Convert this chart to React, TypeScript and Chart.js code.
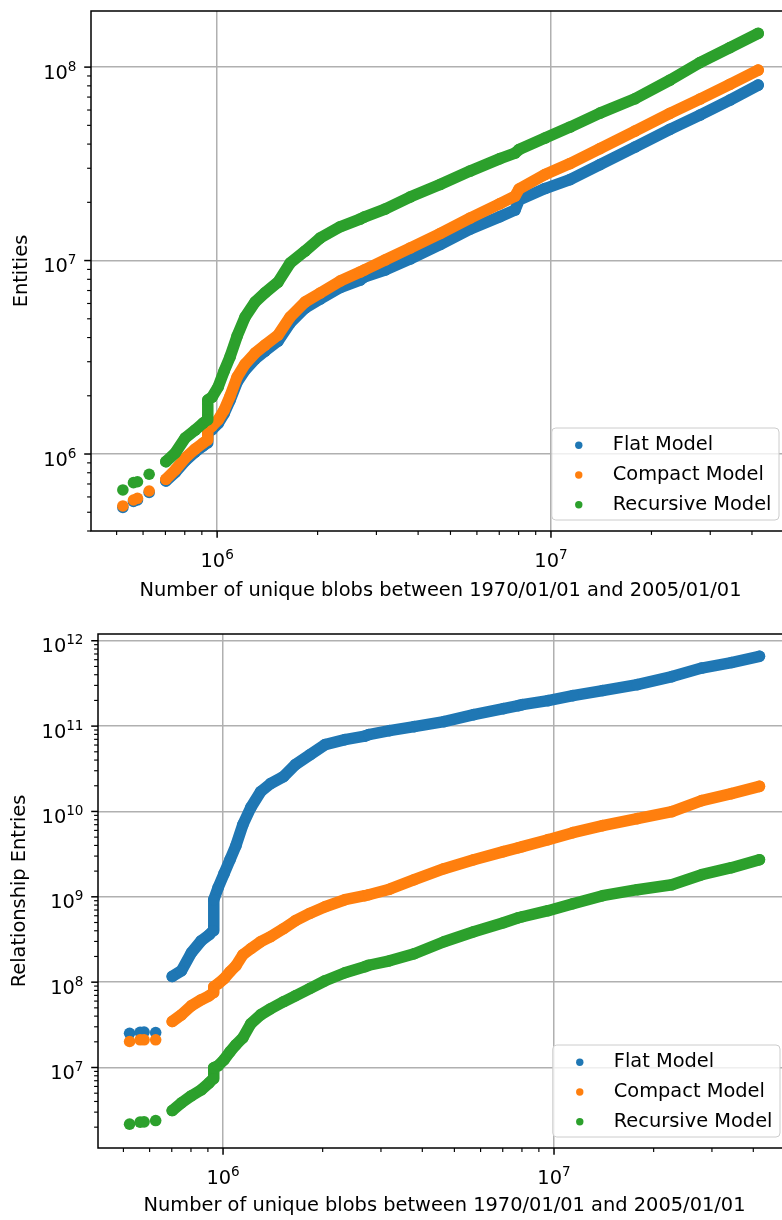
import React, { useEffect, useRef } from 'react';
import { Chart, registerables } from 'chart.js';

Chart.register(...registerables);

// ---------- data ----------
const xBlobs = [
  522000, 561600, 577300, 625800, 702200, 748800, 802200, 859300, 908000, 933500,
  937600, 966100, 1006900, 1049500, 1093700, 1148000, 1212800, 1299500, 1392000, 1522700,
  1654400, 1834000, 2034100, 2335300, 2680300, 2755500, 3184200, 3781900, 4652400, 5721300,
  7035700, 7803600, 8022200, 9594000, 11402000, 14020000, 17843000, 22714000, 27932000, 34356000,
  41753000,
];

const entitiesFlat = [
  5.29e5, 5.682e5, 5.785e5, 6.324e5, 7.253e5, 8.024e5, 9.202e5, 1.024e6, 1.1e6, 1.14e6,
  1.284e6, 1.338e6, 1.438e6, 1.62e6, 1.901e6, 2.355e6, 2.718e6, 3.097e6, 3.407e6, 3.837e6,
  4.753e6, 5.682e6, 6.324e6, 7.253e6, 7.931e6, 8.218e6, 8.932e6, 1.0181e7, 1.2097e7, 1.4548e7,
  1.688e7, 1.8239e7, 2.0545e7, 2.3557e7, 2.6218e7, 3.1336e7, 3.8605e7, 4.7643e7, 5.6478e7, 6.7531e7,
  8.0724e7,
];
const entitiesCompact = [
  5.39e5, 5.785e5, 5.904e5, 6.438e5, 7.402e5, 8.267e5, 9.535e5, 1.061e6, 1.14e6, 1.181e6,
  1.33e6, 1.395e6, 1.499e6, 1.688e6, 1.994e6, 2.5e6, 2.918e6, 3.327e6, 3.659e6, 4.121e6,
  5.105e6, 6.103e6, 6.792e6, 7.834e6, 8.721e6, 8.932e6, 1.006e7, 1.1603e7, 1.379e7, 1.658e7,
  1.9704e7, 2.1544e7, 2.3416e7, 2.7823e7, 3.1713e7, 3.7918e7, 4.6698e7, 5.7635e7, 6.833e7, 8.1489e7,
  9.6494e7,
];
const entitiesRecursive = [
  6.52e5, 7.11e5, 7.19e5, 7.86e5, 9.13e5, 1.012e6, 1.21e6, 1.33e6, 1.446e6, 1.499e6,
  1.901e6, 1.97e6, 2.22e6, 2.685e6, 3.184e6, 4.072e6, 5.105e6, 6.103e6, 6.818e6, 7.745e6,
  9.707e6, 1.1196e7, 1.3074e7, 1.4951e7, 1.6386e7, 1.678e7, 1.8456e7, 2.1293e7, 2.4712e7, 2.9006e7,
  3.3666e7, 3.5944e7, 3.7466e7, 4.2965e7, 4.8965e7, 5.7848e7, 6.8581e7, 8.565e7, 1.0551e8, 1.2615e8,
  1.4935e8,
];

const relationsFlat = [
  2.517e7, 2.586e7, 2.6e7, 2.572e7, 1.1663e8, 1.36e8, 2.212e8, 3.058e8, 3.595e8, 4.005e8,
  9.247e8, 1.2789e9, 1.8655e9, 2.722e9, 3.972e9, 7.003e9, 1.1082e10, 1.7071e10, 2.1181e10, 2.5586e10,
  3.5376e10, 4.6345e10, 6.0703e10, 6.947e10, 7.635e10, 7.951e10, 8.858e10, 9.865e10, 1.1293e11, 1.3636e11,
  1.6043e11, 1.7391e11, 1.787e11, 1.9907e11, 2.2784e11, 2.6083e11, 3.0654e11, 3.8049e11, 4.7863e11, 5.5517e11,
  6.5809e11,
];
const relationsCompact = [
  2.018e7, 2.112e7, 2.112e7, 2.112e7, 3.461e7, 4.148e7, 5.288e7, 6.218e7, 6.928e7, 7.511e7,
  8.833e7, 9.577e7, 1.0962e8, 1.3241e8, 1.557e8, 2.0954e8, 2.4636e8, 2.9767e8, 3.4063e8, 4.2267e8,
  5.247e8, 6.4225e8, 7.656e8, 9.247e8, 1.0302e9, 1.0583e9, 1.2281e9, 1.5867e9, 2.1355e9, 2.722e9,
  3.3793e9, 3.7635e9, 3.8664e9, 4.6709e9, 5.6428e9, 6.8155e9, 8.2338e9, 9.947e9, 1.3382e10, 1.6171e10,
  1.9696e10,
];
const relationsRecursive = [
  2.17e6, 2.29e6, 2.309e6, 2.392e6, 3.132e6, 3.857e6, 4.659e6, 5.477e6, 6.616e6, 7.372e6,
  9.92e6, 1.0469e7, 1.2311e7, 1.528e7, 1.8455e7, 2.2295e7, 3.2533e7, 4.148e7, 4.877e7, 5.891e7,
  6.928e7, 8.482e7, 1.0385e8, 1.2891e8, 1.5154e8, 1.5781e8, 1.7813e8, 2.1524e8, 2.9767e8, 3.8985e8,
  4.9704e8, 5.6885e8, 5.8439e8, 6.8707e8, 8.3022e8, 1.0302e9, 1.2115e9, 1.3868e9, 1.8159e9, 2.1937e9,
  2.722e9,
];

// the first samples are isolated snapshots, drawn as separate dots
const DISCRETE_SNAPSHOTS = 4;

const SERIES_NAMES = ['Flat Model', 'Compact Model', 'Recursive Model'];
const SERIES_COLORS = ['#1f77b4', '#ff7f0e', '#2ca02c'];
const X_TITLE = 'Number of unique blobs between 1970/01/01 and 2005/01/01';
const ENTITIES_TITLE = 'Entities';
const RELATIONS_TITLE = 'Relationship Entries';

// tick decades (labelled as 10^n; minor ticks at 2..9 x decade)
const xDecades = [1e5, 1e6, 1e7];
const entitiesDecades = [1e5, 1e6, 1e7, 1e8];
const relationsDecades = [1e6, 1e7, 1e8, 1e9, 1e10, 1e11, 1e12];

const X_RANGE = [4.19e5, 5.2e7];
const ENTITIES_RANGE = [4.0e5, 1.95e8];
const RELATIONS_RANGE = [1.14e6, 1.2e12];

// ---------- styling ----------
const FONT_FAMILY = "'DejaVu Sans', 'Liberation Sans', sans-serif";
const FONT_SIZE = 19.4;
const SUP_SIZE = FONT_SIZE * 0.7;
const TEXT_COLOR = '#000000';
const GRID_COLOR = '#b0b0b0';

const isDecade = (v: number) => Math.abs(Math.log10(v) - Math.round(Math.log10(v))) < 1e-6;

function buildTicks(decades: number[], min: number, max: number) {
  const out: { value: number; major: boolean }[] = [];
  for (const d of decades) {
    for (let k = 1; k <= 9; k++) {
      const v = d * k;
      if (v >= min && v <= max) out.push({ value: v, major: k === 1 });
    }
  }
  return out;
}

// draw "10" with a raised, smaller exponent (like matplotlib mathtext)
function drawPower(ctx: CanvasRenderingContext2D, v: number, x: number, baseY: number, align: 'center' | 'right') {
  const exp = String(Math.round(Math.log10(v)));
  const baseFont = `${FONT_SIZE}px ${FONT_FAMILY}`;
  const supFont = `${SUP_SIZE}px ${FONT_FAMILY}`;
  ctx.font = baseFont;
  const wb = ctx.measureText('10').width;
  ctx.font = supFont;
  const we = ctx.measureText(exp).width;
  const total = wb + we;
  const left = align === 'center' ? x - total / 2 : x - total;
  ctx.fillStyle = TEXT_COLOR;
  ctx.textAlign = 'left';
  ctx.textBaseline = 'alphabetic';
  ctx.font = baseFont;
  ctx.fillText('10', left, baseY);
  ctx.font = supFont;
  ctx.fillText(exp, left + wb, baseY - 8);
}

const mplDecor = {
  id: 'mplDecor',
  afterDraw(chart: any) {
    const { ctx, chartArea: a, scales } = chart;
    ctx.save();
    ctx.strokeStyle = '#000';
    ctx.lineCap = 'butt';
    for (const t of scales.x.ticks) {
      const p = scales.x.getPixelForValue(t.value);
      const major = isDecade(t.value);
      ctx.lineWidth = major ? 1.5 : 1.15;
      ctx.beginPath();
      ctx.moveTo(p, a.bottom);
      ctx.lineTo(p, a.bottom + (major ? 6.8 : 3.9));
      ctx.stroke();
      if (major) drawPower(ctx, t.value, p, a.bottom + 35.6, 'center');
    }
    ctx.strokeStyle = '#000';
    for (const t of scales.y.ticks) {
      const p = scales.y.getPixelForValue(t.value);
      const major = isDecade(t.value);
      ctx.lineWidth = major ? 1.5 : 1.15;
      ctx.beginPath();
      ctx.moveTo(a.left, p);
      ctx.lineTo(a.left - (major ? 6.8 : 3.9), p);
      ctx.stroke();
      if (major) drawPower(ctx, t.value, a.left - 14.5, p + 11.6, 'right');
    }
    ctx.strokeStyle = '#000';
    ctx.lineWidth = 1.5;
    ctx.strokeRect(a.left, a.top, a.right - a.left, a.bottom - a.top);

    // legend (lower right, inside axes)
    ctx.font = `${FONT_SIZE}px ${FONT_FAMILY}`;
    const ds = chart.data.datasets;
    const tw = Math.max(...ds.map((d: any) => ctx.measureText(d.label).width));
    const W = 61 + tw + 7.5;
    const H = 92;
    const x0 = a.right - 11 - W;
    const y0 = a.bottom - 11 - H;
    ctx.beginPath();
    if (ctx.roundRect) ctx.roundRect(x0, y0, W, H, 4);
    else ctx.rect(x0, y0, W, H);
    ctx.fillStyle = 'rgba(255,255,255,0.8)';
    ctx.fill();
    ctx.lineWidth = 1;
    ctx.strokeStyle = '#cccccc';
    ctx.stroke();
    ds.forEach((d: any, i: number) => {
      const cy = y0 + 17.3 + i * 29.7;
      ctx.beginPath();
      ctx.arc(x0 + 27, cy, 3.7, 0, Math.PI * 2);
      ctx.fillStyle = d.borderColor;
      ctx.fill();
      ctx.fillStyle = TEXT_COLOR;
      ctx.textAlign = 'left';
      ctx.textBaseline = 'middle';
      ctx.fillText(d.label, x0 + 61, cy);
    });
    ctx.restore();
  },
};

interface Geom {
  padTop: number;
  yAxisW: number;
  xAxisH: number;
  xTitlePad: number;
  yTitlePad: number;
}

function makeConfig(series: number[][], yRange: number[], yDecades: number[], yTitle: string, g: Geom): any {
  const font = { family: FONT_FAMILY, size: FONT_SIZE };
  const gridColor = (c: any) => (c.tick && isDecade(c.tick.value) ? GRID_COLOR : 'rgba(0,0,0,0)');
  const zeroPad = (s: any) => {
    s.paddingLeft = 0;
    s.paddingRight = 0;
    s.paddingTop = 0;
    s.paddingBottom = 0;
  };
  return {
    type: 'scatter',
    data: {
      datasets: series.map((ys, i) => ({
        label: SERIES_NAMES[i],
        data: xBlobs.map((x, j) => ({ x, y: ys[j] })),
        showLine: true,
        borderColor: SERIES_COLORS[i],
        backgroundColor: SERIES_COLORS[i],
        borderWidth: 11.5,
        borderCapStyle: 'round',
        borderJoinStyle: 'round',
        pointRadius: 5.8,
        pointHoverRadius: 5.8,
        pointBorderWidth: 0,
        order: 3 - i,
        segment: {
          borderColor: (c: any) => (c.p1DataIndex <= DISCRETE_SNAPSHOTS ? 'rgba(0,0,0,0)' : undefined),
        },
      })),
    },
    options: {
      responsive: false,
      animation: false,
      events: [],
      layout: { autoPadding: false, padding: { top: g.padTop, left: 0, right: 0, bottom: 0 } },
      plugins: { legend: { display: false }, tooltip: { enabled: false } },
      scales: {
        x: {
          type: 'logarithmic',
          bounds: 'data',
          min: X_RANGE[0],
          max: X_RANGE[1],
          afterFit: (s: any) => {
            s.height = g.xAxisH;
            zeroPad(s);
          },
          afterBuildTicks: (s: any) => {
            s.ticks = buildTicks(xDecades, X_RANGE[0], X_RANGE[1]);
          },
          grid: { color: gridColor, lineWidth: 1.5, drawTicks: false },
          border: { display: false },
          ticks: { display: false, autoSkip: false, maxRotation: 0, minRotation: 0 },
          title: {
            display: true,
            text: X_TITLE,
            color: TEXT_COLOR,
            font,
            padding: { top: 0, bottom: g.xTitlePad },
          },
        },
        y: {
          type: 'logarithmic',
          bounds: 'data',
          min: yRange[0],
          max: yRange[1],
          afterFit: (s: any) => {
            s.width = g.yAxisW;
            zeroPad(s);
          },
          afterBuildTicks: (s: any) => {
            s.ticks = buildTicks(yDecades, yRange[0], yRange[1]);
          },
          grid: { color: gridColor, lineWidth: 1.5, drawTicks: false },
          border: { display: false },
          ticks: { display: false, autoSkip: false },
          title: {
            display: true,
            text: yTitle,
            color: TEXT_COLOR,
            font,
            padding: { top: g.yTitlePad, bottom: 0 },
          },
        },
      },
    },
    plugins: [mplDecor],
  };
}

export default function App() {
  const topRef = useRef<HTMLCanvasElement>(null);
  const bottomRef = useRef<HTMLCanvasElement>(null);

  useEffect(() => {
    const c1 = new Chart(
      topRef.current as HTMLCanvasElement,
      makeConfig([entitiesFlat, entitiesCompact, entitiesRecursive], ENTITIES_RANGE, entitiesDecades, ENTITIES_TITLE, {
        padTop: 11,
        yAxisW: 91,
        xAxisH: 79,
        xTitlePad: 7.4,
        yTitlePad: 10.8,
      })
    );
    const c2 = new Chart(
      bottomRef.current as HTMLCanvasElement,
      makeConfig([relationsFlat, relationsCompact, relationsRecursive], RELATIONS_RANGE, relationsDecades, RELATIONS_TITLE, {
        padTop: 24,
        yAxisW: 98,
        xAxisH: 72,
        xTitlePad: 2.8,
        yTitlePad: 8.2,
      })
    );
    return () => {
      c1.destroy();
      c2.destroy();
    };
  }, []);

  return (
    <div
      style={{
        position: 'absolute',
        left: 0,
        top: 0,
        width: 782,
        height: 1220,
        overflow: 'hidden',
        background: '#ffffff',
      }}
    >
      <canvas
        ref={topRef}
        width={790}
        height={610}
        style={{ position: 'absolute', left: 0, top: 0, width: 790, height: 610 }}
      />
      <canvas
        ref={bottomRef}
        width={791}
        height={610}
        style={{ position: 'absolute', left: 0, top: 610, width: 791, height: 610 }}
      />
    </div>
  );
}
